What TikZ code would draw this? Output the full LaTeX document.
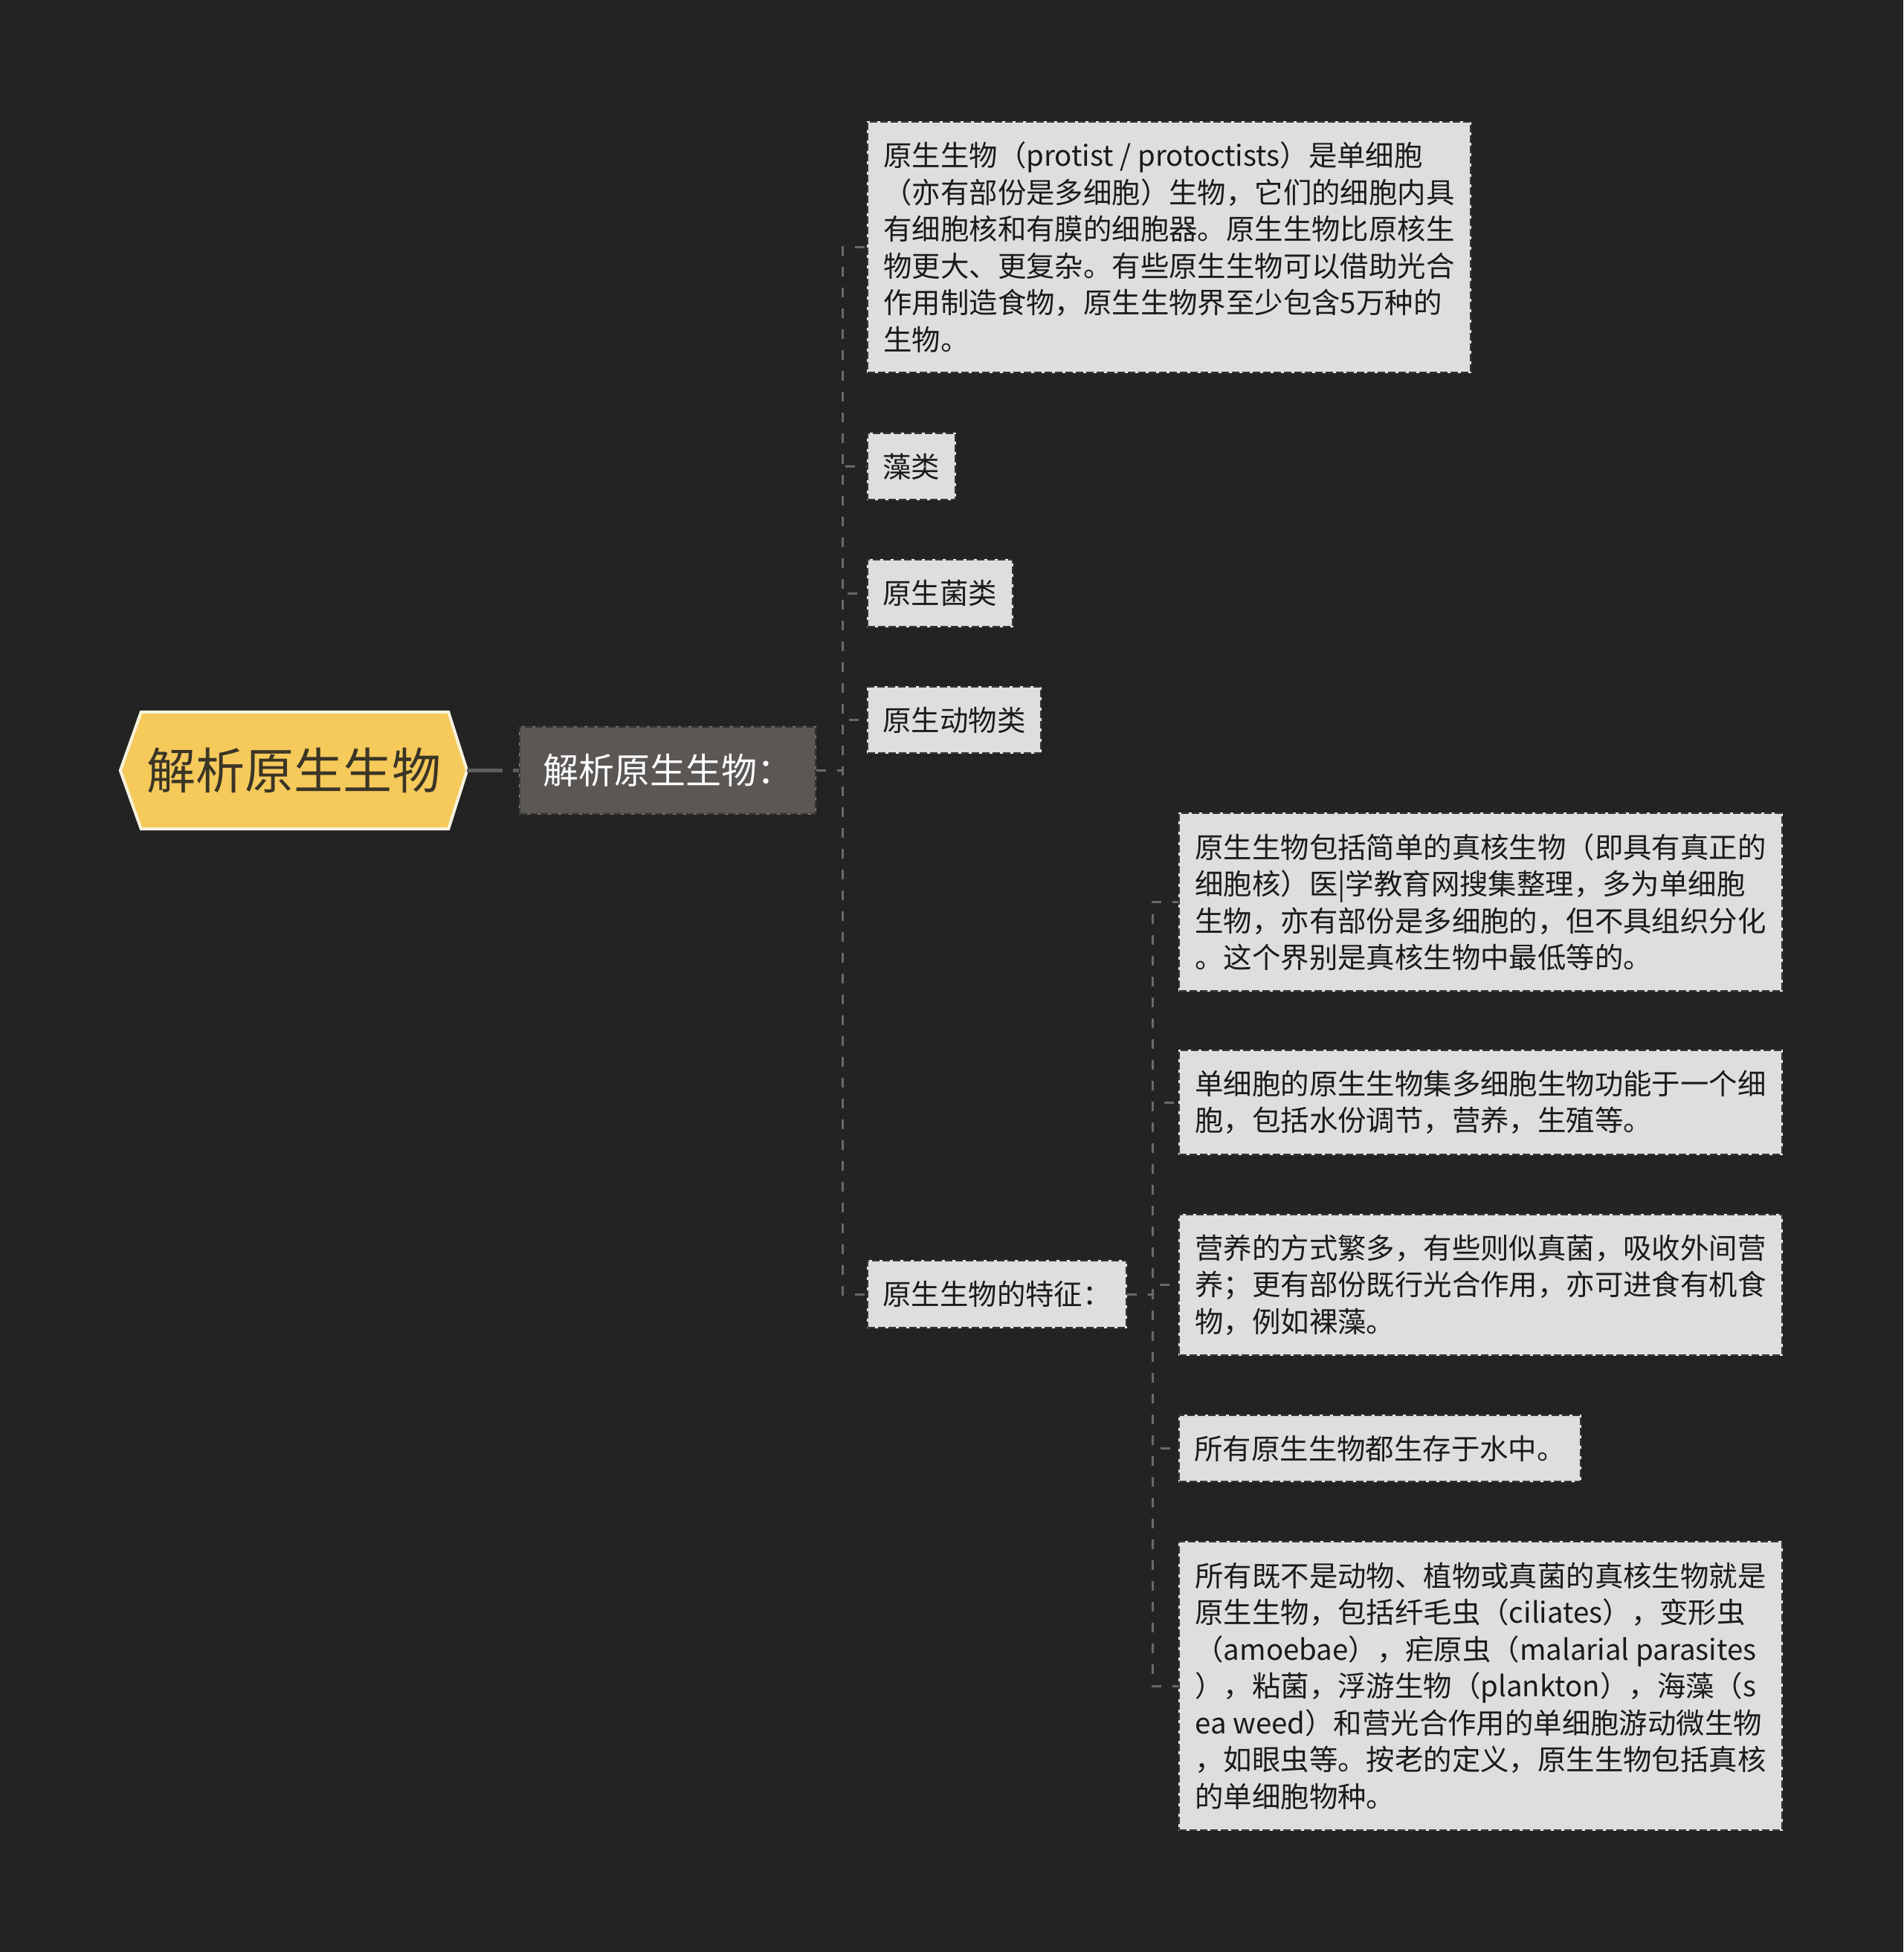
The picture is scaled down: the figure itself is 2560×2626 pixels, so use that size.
\documentclass[tikz,border=0pt]{standalone}
\usepackage{fontspec}
\setmainfont{Noto Sans CJK SC}
\newfontfamily\cjk{Noto Sans CJK SC}
\usetikzlibrary{backgrounds}
\definecolor{bgc}{HTML}{232323}
\definecolor{boxfill}{HTML}{DEDEDC}
\definecolor{boxdash}{HTML}{353535}
\definecolor{boxlight}{HTML}{F4F4F4}
\definecolor{nfill}{HTML}{5A5755}
\definecolor{nlight}{HTML}{858380}
\definecolor{hexfill}{HTML}{F5CA5B}
\definecolor{hexedge}{HTML}{F7F2DC}
\definecolor{linkgray}{HTML}{6A6A6A}
\definecolor{rootgray}{HTML}{5E5E5E}
\definecolor{roottext}{HTML}{3B3526}
\definecolor{boxtext}{HTML}{1A1A1A}
\tikzset{
  leafbox/.style={fill=boxfill, draw=boxdash, line width=2pt, dash pattern=on 10pt off 4pt,
    preaction={draw=boxlight, solid, line width=2pt},
    inner xsep=20.5pt, inner ysep=0pt, anchor=west, align=left, text=boxtext,
    font=\cjk\fontsize{38.4pt}{49.5pt}\selectfont},
  midbox/.style={fill=nfill, draw=boxdash, line width=2pt, dash pattern=on 10pt off 4pt,
    preaction={draw=nlight, solid, line width=2pt},
    inner xsep=25pt, inner ysep=0pt, anchor=west, align=left, text=white,
    font=\cjk\fontsize{48pt}{58pt}\selectfont},
  link/.style={draw=linkgray, line width=3pt, dash pattern=on 13pt off 15pt},
  rootlink/.style={draw=rootgray, line width=5pt, dash pattern=on 48pt off 14pt},
}
\begin{document}
\begin{tikzpicture}[x=1pt,y=-1pt]
\useasboundingbox (0,0) rectangle (2560,2626);
% root
\node (root) [minimum width=466pt, minimum height=157pt, inner sep=0pt, text=roottext,
  font=\cjk\fontsize{66pt}{70pt}\selectfont] at (395,1036.5) {解析原生生物};
% level 1
\node (n2) [midbox, minimum width=398pt, minimum height=117pt] at (698,1036.5) {解析原生生物：};
% level 2
\node (t1) [leafbox, minimum width=811pt, minimum height=337pt] at (1166,332.5) {原生生物（protist / protoctists）是单细胞\\（亦有部份是多细胞）生物，它们的细胞内具\\有细胞核和有膜的细胞器。原生生物比原核生\\物更大、更复杂。有些原生生物可以借助光合\\作用制造食物，原生生物界至少包含5万种的\\生物。};
\node (t2) [leafbox, minimum height=89pt] at (1166,627.5) {藻类};
\node (t3) [leafbox, minimum height=90pt] at (1166,798) {原生菌类};
\node (t4) [leafbox, minimum height=89pt] at (1166,968.5) {原生动物类};
\node (t5) [leafbox, minimum height=90pt] at (1166,1741) {原生生物的特征：};
% level 3
\node (c1) [leafbox, minimum width=811pt, minimum height=239pt] at (1585,1213.5) {原生生物包括简单的真核生物（即具有真正的\\细胞核）医|学教育网搜集整理，多为单细胞\\生物，亦有部份是多细胞的，但不具组织分化\\。这个界别是真核生物中最低等的。};
\node (c2) [leafbox, minimum width=811pt, minimum height=140pt] at (1585,1483) {单细胞的原生生物集多细胞生物功能于一个细\\胞，包括水份调节，营养，生殖等。};
\node (c3) [leafbox, minimum width=811pt, minimum height=189pt] at (1585,1728.5) {营养的方式繁多，有些则似真菌，吸收外间营\\养；更有部份既行光合作用，亦可进食有机食\\物，例如裸藻。};
\node (c4) [leafbox, minimum height=89pt] at (1585,1948.5) {所有原生生物都生存于水中。};
\node (c5) [leafbox, minimum width=811pt, minimum height=388pt] at (1585,2268) {所有既不是动物、植物或真菌的真核生物就是\\原生生物，包括纤毛虫（ciliates），变形虫\\（amoebae），疟原虫（malarial parasites\\），粘菌，浮游生物（plankton），海藻（s\\ea weed）和营光合作用的单细胞游动微生物\\，如眼虫等。按老的定义，原生生物包括真核\\的单细胞物种。};
% junctions
\coordinate (j1) at (1133,1036.5);
\coordinate (j2) at (1550,1741);
% connectors
\draw[rootlink] (root.east) -- (n2.west);
\foreach \t in {t1,t2,t3,t4,t5} {\draw[link] (n2.east) -- (j1) |- (\t.west);}
\foreach \c in {c1,c2,c3,c4,c5} {\draw[link] (t5.east) -- (j2) |- (\c.west);}
% background and hexagon
\begin{scope}[on background layer]
\fill[bgc] (0,0) rectangle (2560,2626);
\draw[fill=hexfill, draw=hexedge, line width=4pt, line join=miter]
  (root.west) -- ([xshift=28pt]root.north west) -- ([xshift=-25pt]root.north east)
  -- (root.east) -- ([xshift=-25pt]root.south east) -- ([xshift=28pt]root.south west) -- cycle;
\end{scope}
\end{tikzpicture}
\end{document}
